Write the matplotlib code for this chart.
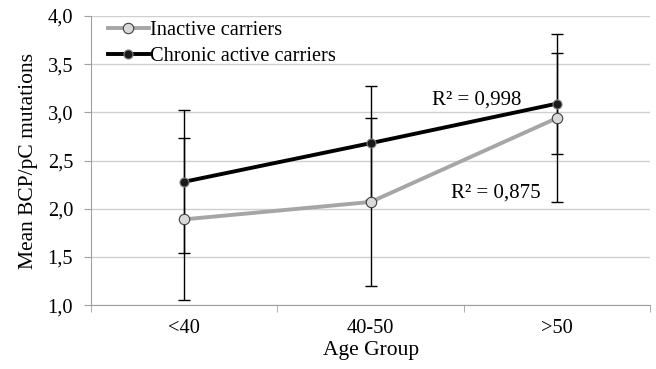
import numpy as np
import matplotlib.pyplot as plt
from matplotlib.ticker import FixedLocator, FuncFormatter

plt.rcParams['font.family'] = ['Liberation Serif', 'DejaVu Serif']

groups = ['<40', '40-50', '>50']
inactive = [1.89, 2.07, 2.94]
inactive_sd = [0.84, 0.87, 0.87]
chronic = [2.28, 2.68, 3.09]
chronic_sd = [0.74, 0.59, 0.52]
r2_labels = ['R\u00b2 = 0,998', 'R\u00b2 = 0,875']

fig = plt.figure(figsize=(6.56, 3.69), dpi=100)
ax = fig.add_axes([0.139, 0.173, 0.852, 0.784])
x = np.arange(len(groups))

ax.errorbar(x, inactive, yerr=inactive_sd, fmt='none', ecolor='black',
            elinewidth=1, capsize=4, capthick=1, zorder=2)
ax.errorbar(x, chronic, yerr=chronic_sd, fmt='none', ecolor='black',
            elinewidth=1, capsize=4, capthick=1, zorder=2)

ax.plot(x, inactive, color='#a6a6a6', lw=2.8, marker='o', ms=7.5,
        mfc='#d9d9d9', mec='#404040', mew=0.8, label='Inactive carriers', zorder=3)
ax.plot(x, chronic, color='black', lw=2.8, marker='o', ms=6.5,
        mfc='#1a1a1a', mec='#808080', mew=0.8, label='Chronic active carriers', zorder=4)

ax.text(1.57, 3.13, r2_labels[0], fontsize=15, ha='center', va='center')
ax.text(1.67, 2.16, r2_labels[1], fontsize=15, ha='center', va='center')

ax.set_xlim(-0.5, 2.5)
ax.set_ylim(1.0, 4.0)
ax.set_xticks(x)
ax.set_xticklabels(groups, fontsize=14.7)
ax.xaxis.set_minor_locator(FixedLocator([-0.5, 0.5, 1.5, 2.5]))
ax.tick_params(axis='x', which='major', length=0, pad=10)
ax.tick_params(axis='x', which='minor', length=5, color='#a0a0a0', direction='out')
ax.set_yticks(np.arange(1.0, 4.01, 0.5))
ax.yaxis.set_major_formatter(FuncFormatter(lambda v, p: f'{v:.1f}'.replace('.', ',')))
ax.tick_params(axis='y', length=5, color='#a0a0a0', labelsize=14.7, pad=8)

ax.grid(axis='y', color='#d0d0d0', lw=1)
ax.set_axisbelow(True)
for s in ['top', 'right']:
    ax.spines[s].set_visible(False)
for s in ['left', 'bottom']:
    ax.spines[s].set_color('#a0a0a0')

ax.set_xlabel('Age Group', fontsize=15.5, labelpad=2)
ax.set_ylabel('Mean BCP/pC mutations', fontsize=15.5, labelpad=7)

ax.legend(loc='upper left', bbox_to_anchor=(0.015, 1.01), frameon=False,
          fontsize=14.7, handlelength=2.0, handletextpad=0.05, labelspacing=0.3,
          borderaxespad=0)

fig.savefig('out.png', dpi=100)
